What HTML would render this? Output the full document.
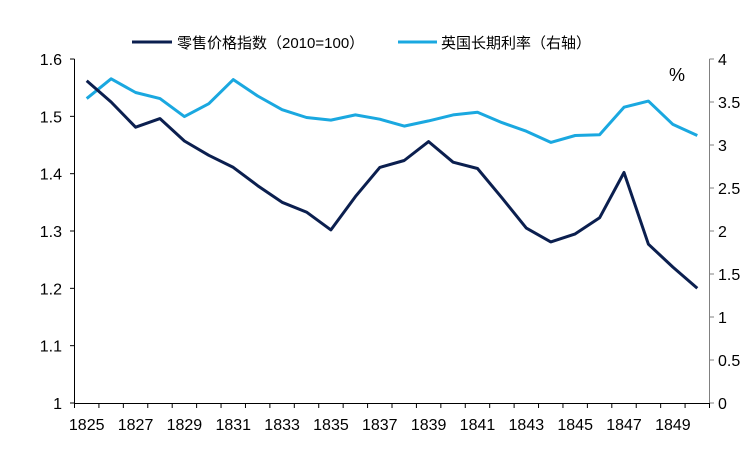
<!DOCTYPE html>
<html><head><meta charset="utf-8"><style>
body{margin:0;background:#fff;}
svg text{font-family:"Liberation Sans","Noto Sans CJK SC",sans-serif;fill:#000;}
</style></head><body>
<svg id="c" width="750" height="450" xmlns="http://www.w3.org/2000/svg">
<line x1="74.5" y1="59" x2="74.5" y2="403" stroke="#000" stroke-width="1"/>
<line x1="709.5" y1="59" x2="709.5" y2="403" stroke="#808080" stroke-width="1"/>
<line x1="74" y1="403.5" x2="710" y2="403.5" stroke="#000" stroke-width="1"/>
<line x1="132" y1="42" x2="172" y2="42" stroke="#0b1f4f" stroke-width="3"/>
<text x="177" y="48" font-size="15">零售价格指数（2010=100）</text>
<line x1="398" y1="42" x2="437" y2="42" stroke="#1aa8e0" stroke-width="3"/>
<text x="441" y="48" font-size="15">英国长期利率（右轴）</text>
<text x="669" y="81" font-size="18">%</text>
</svg>
<script>
var s=document.getElementById('c'),ns='http://www.w3.org/2000/svg';
function el(t,a,txt){var e=document.createElementNS(ns,t);for(var k in a)e.setAttribute(k,a[k]);if(txt!==undefined)e.textContent=txt;s.appendChild(e);return e;}
var L=74.5,W=(709.5-74.5)/26;
function yl(v){return 403-(v-1)*573.3;}
function yr(v){return 403-v*86;}
['1','1.1','1.2','1.3','1.4','1.5','1.6'].forEach(function(t,i){var y=403-i*57.33;
 el('line',{x1:70,x2:74.5,y1:y,y2:y,stroke:'#000'});
 el('text',{x:62,y:y+6,'font-size':16,'text-anchor':'end'},t);});
['0','0.5','1','1.5','2','2.5','3','3.5','4'].forEach(function(t,i){var y=403-i*43;
 el('line',{x1:709.5,x2:714,y1:y,y2:y,stroke:'#808080'});
 el('text',{x:718,y:y+6,'font-size':16},t);});
for(var i=0;i<=26;i++){var x=L+i*W;el('line',{x1:x,x2:x,y1:403,y2:408,stroke:'#000'});}
for(var i=0;i<26;i+=2){el('text',{x:L+W*(i+0.5),y:430,'font-size':16,'text-anchor':'middle'},String(1825+i));}
var a=[1.562,1.525,1.481,1.496,1.457,1.432,1.411,1.379,1.350,1.333,1.302,1.360,1.411,1.423,1.456,1.420,1.409,1.358,1.305,1.281,1.295,1.323,1.402,1.277,1.237,1.200];
var b=[3.54,3.77,3.61,3.54,3.33,3.48,3.76,3.57,3.41,3.32,3.29,3.35,3.30,3.22,3.28,3.35,3.38,3.26,3.16,3.03,3.11,3.12,3.44,3.51,3.24,3.11];
function pts(d,f){return d.map(function(v,i){return (L+W*(i+0.5)).toFixed(1)+','+f(v).toFixed(1);}).join(' ');}
el('polyline',{points:pts(b,yr),fill:'none',stroke:'#1aa8e0','stroke-width':3,'stroke-linejoin':'round'});
el('polyline',{points:pts(a,yl),fill:'none',stroke:'#0b1f4f','stroke-width':3,'stroke-linejoin':'round'});
</script>
</body></html>
